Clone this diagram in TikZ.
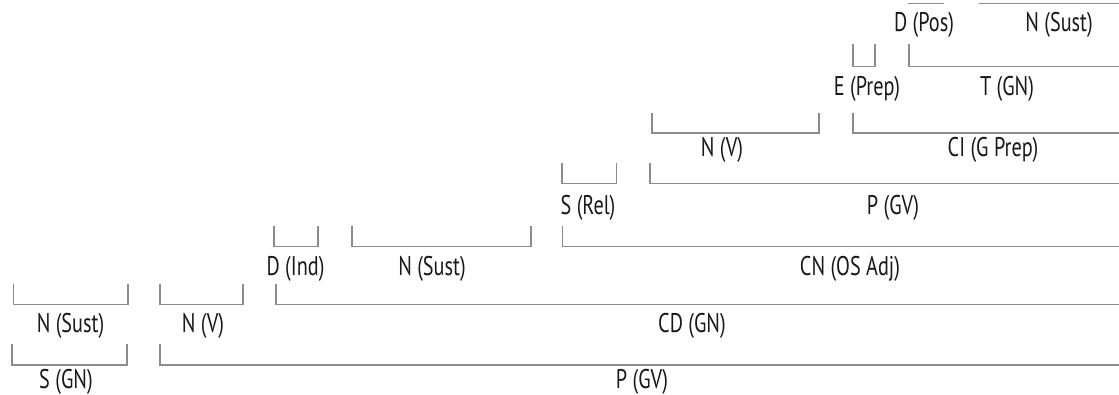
\documentclass[tikz,border=0pt]{standalone}
\usepackage{fontspec}
\setmainfont[FakeStretch=0.75]{PT Sans}
\begin{document}
\begin{tikzpicture}[x=1pt,y=-1pt,
  brk/.style={draw=black!45, line width=1.1pt},
  lbl/.style={inner sep=0pt, text=black!90, font=\fontsize{27}{29}\selectfont}]
\path[use as bounding box, clip] (0,0) rectangle (1119,394);
\fill[white] (0,0) rectangle (1119,394);
% row 1 (cut off at top)
\draw[brk] (908,3.6) -- (944,3.6);
\draw[brk] (978.6,3.6) -- (1130,3.6);
\node[lbl] (dpos) at (924,25) {D (Pos)};
\node[lbl] (nsust1) at (1059,25) {N (Sust)};
% row 2
\draw[brk] (853,43.6) |- (875,66.4) -- (875,43.6);
\draw[brk] (909,43.6) |- (1130,66.4);
\node[lbl] (eprep) at (867,89) {E (Prep)};
\node[lbl] (tgn) at (1007,89) {T (GN)};
% row 3
\draw[brk] (652,112.5) |- (819,133) -- (819,112.5);
\draw[brk] (853,112.5) |- (1130,133);
\node[lbl] (nv1) at (722,150) {N (V)};
\node[lbl] (ci) at (993,150) {CI (G Prep)};
% row 4
\draw[brk] (562,163) |- (616.4,183.6) -- (616.4,163);
\draw[brk] (650,163) |- (1130,183.6);
\node[lbl] (srel) at (588,208) {S (Rel)};
\node[lbl] (pgv1) at (893,208) {P (GV)};
% row 5
\draw[brk] (274,225.7) |- (318,246.4) -- (318,225.7);
\draw[brk] (352,225.7) |- (531,246.4) -- (531,225.7);
\draw[brk] (562.5,225.7) |- (1130,246.4);
\node[lbl] (dind) at (295.5,268.6) {D (Ind)};
\node[lbl] (nsust2) at (432,268.6) {N (Sust)};
\node[lbl] (cn) at (850,268.6) {CN (OS Adj)};
% row 6
\draw[brk] (13.6,283.6) |- (128,304.6) -- (128,283.6);
\draw[brk] (160,283.6) |- (243,304.6) -- (243,283.6);
\draw[brk] (276,283.6) |- (1130,304.6);
\node[lbl] (nsust3) at (70.5,326) {N (Sust)};
\node[lbl] (nv2) at (203,326) {N (V)};
\node[lbl] (cd) at (692,326) {CD (GN)};
% row 7
\draw[brk] (12,344) |- (127,365) -- (127,344);
\draw[brk] (160,344) |- (1130,365);
\node[lbl] (sgn) at (66,382) {S (GN)};
\node[lbl] (pgv2) at (642,382) {P (GV)};
\end{tikzpicture}
\end{document}
